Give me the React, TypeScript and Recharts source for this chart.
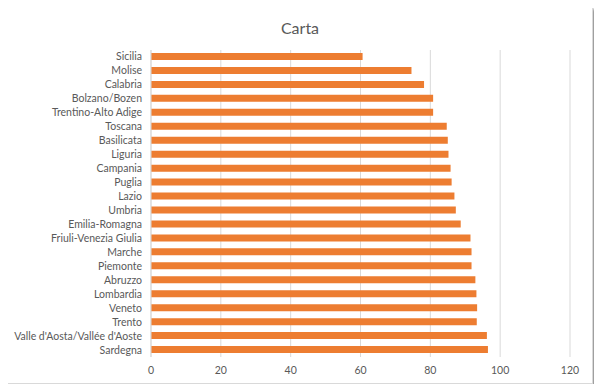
import { BarChart, Bar, XAxis, YAxis, CartesianGrid } from "recharts";

const REGIONS = [
  "Sicilia",
  "Molise",
  "Calabria",
  "Bolzano/Bozen",
  "Trentino-Alto Adige",
  "Toscana",
  "Basilicata",
  "Liguria",
  "Campania",
  "Puglia",
  "Lazio",
  "Umbria",
  "Emilia-Romagna",
  "Friuli-Venezia Giulia",
  "Marche",
  "Piemonte",
  "Abruzzo",
  "Lombardia",
  "Veneto",
  "Trento",
  "Valle d'Aosta/Vallée d'Aoste",
  "Sardegna",
];

const VALUES = [
  60.6, 74.6, 78.2, 80.8, 80.8, 84.7, 85.0, 85.2, 85.8, 86.1, 86.9, 87.3,
  88.7, 91.5, 91.8, 91.8, 92.9, 93.2, 93.4, 93.3, 96.2, 96.5,
];

const X_TICKS = [0, 20, 40, 60, 80, 100, 120];

const FONT = "Lato, 'Noto Sans', sans-serif";
const TEXT = "#595959";

// single-line tick so long names don't wrap
function RegionTick({ x, y, payload }: any) {
  return (
    <text
      x={x}
      y={y}
      dy={3.5}
      textAnchor="end"
      fontSize={10.5}
      fill={TEXT}
      fontFamily={FONT}
    >
      {payload.value}
    </text>
  );
}

export default function App() {
  const data = REGIONS.map((name, i) => ({ name, value: VALUES[i] }));

  return (
    <div
      style={{
        position: "relative",
        width: 602,
        height: 392,
        margin: -8,
        background: "#fff",
        fontFamily: FONT,
      }}
    >
      <div
        style={{
          position: "absolute",
          left: 7,
          top: 6,
          width: 584,
          height: 376,
          border: "1px solid #d9d9d9",
          boxShadow: "2px 3px 3px rgba(0,0,0,0.45)",
          background: "#fff",
        }}
      >
        <div
          style={{
            position: "absolute",
            top: 11,
            width: "100%",
            textAlign: "center",
            fontSize: 16,
            color: TEXT,
          }}
        >
          Carta
        </div>
        <BarChart
          width={584}
          height={376}
          data={data}
          layout="vertical"
          margin={{ top: 43, right: 22, bottom: 0, left: 0 }}
          barSize={7}
        >
          <CartesianGrid horizontal={false} stroke="#d9d9d9" />
          <XAxis
            type="number"
            domain={[0, 120]}
            ticks={X_TICKS}
            axisLine={false}
            tickLine={false}
            height={26}
            tickMargin={4}
            tick={{ fontSize: 10.5, fill: TEXT, fontFamily: FONT }}
          />
          <YAxis
            type="category"
            dataKey="name"
            width={143}
            interval={0}
            axisLine={{ stroke: "#d9d9d9" }}
            tickLine={false}
            tickMargin={3}
            tick={<RegionTick />}
          />
          <Bar dataKey="value" fill="#ED7D31" isAnimationActive={false} />
        </BarChart>
      </div>
    </div>
  );
}
